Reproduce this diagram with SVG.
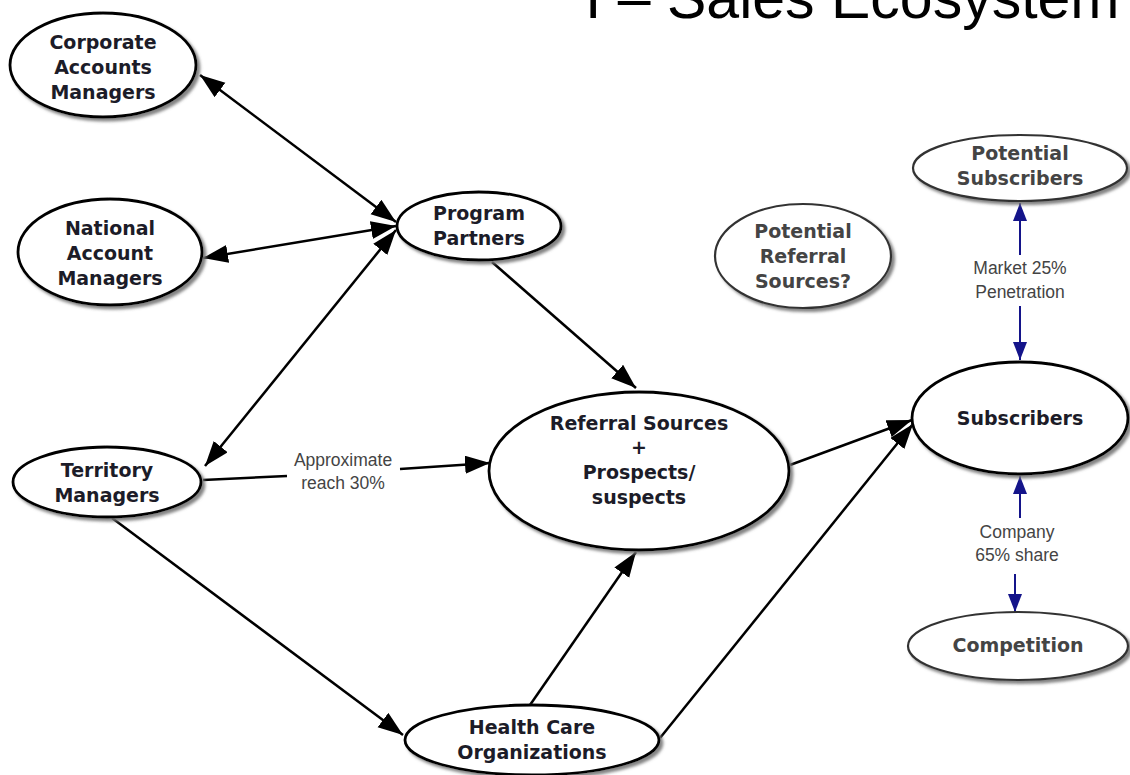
<svg xmlns="http://www.w3.org/2000/svg" width="1130" height="775" viewBox="0 0 1130 775">
<defs>
<filter id="sh" x="-10%" y="-10%" width="125%" height="130%">
<feDropShadow dx="3" dy="3" stdDeviation="1.5" flood-color="#777" flood-opacity="0.9"/>
</filter>
<marker id="ah" markerUnits="userSpaceOnUse" markerWidth="28" markerHeight="20" refX="25" refY="9" orient="auto-start-reverse">
<path d="M0,0 L25,9 L0,18 z" fill="#000"/>
</marker>
<marker id="bh" markerUnits="userSpaceOnUse" markerWidth="20" markerHeight="16" refX="18" refY="7" orient="auto">
<path d="M0,0 L18,7 L0,14 z" fill="#14148a"/>
</marker>
<style>
.node ellipse{fill:#fff;stroke:#000;stroke-width:2.8;filter:url(#sh)}
.dim ellipse{stroke:#333;stroke-width:2.2}
.node text{font-family:"DejaVu Sans",Verdana,sans-serif;font-weight:bold;font-size:19px;fill:#1c1c28;text-anchor:middle}
.dim text{fill:#444}
.conn line{stroke:#000;stroke-width:2.5;fill:none}
.blue line{stroke:#14148a;stroke-width:2}
.lbl{font-family:"Liberation Sans",Arial,sans-serif;font-size:17.5px;fill:#444;text-anchor:middle}
.title{font-family:"Liberation Sans",Arial,sans-serif;font-size:59px;fill:#000}
</style>
</defs>
<rect width="1130" height="775" fill="#fff"/>
<text class="title" x="585" y="18">I – Sales Ecosystem</text>

<g id="connectors" class="conn">
<line x1="200" y1="75" x2="396" y2="222" marker-start="url(#ah)" marker-end="url(#ah)"/>
<line x1="203" y1="258" x2="396" y2="226" marker-start="url(#ah)" marker-end="url(#ah)"/>
<line x1="205" y1="466" x2="396" y2="230" marker-start="url(#ah)" marker-end="url(#ah)"/>
<line x1="492" y1="262" x2="636" y2="388" marker-end="url(#ah)"/>
<line x1="203" y1="480" x2="287" y2="476"/>
<line x1="400" y1="469" x2="490" y2="463" marker-end="url(#ah)"/>
<text class="lbl" x="343" y="466">Approximate</text>
<text class="lbl" x="343" y="489">reach 30%</text>
<line x1="112" y1="518" x2="403" y2="735" marker-end="url(#ah)"/>
<line x1="530" y1="705" x2="636" y2="552" marker-end="url(#ah)"/>
<line x1="790" y1="465" x2="912" y2="420" marker-end="url(#ah)"/>
<line x1="660" y1="738" x2="913" y2="424" marker-end="url(#ah)"/>
<g class="blue">
<line x1="1020" y1="255" x2="1020" y2="203" marker-end="url(#bh)"/>
<line x1="1020" y1="306" x2="1020" y2="360" marker-end="url(#bh)"/>
<line x1="1020" y1="518" x2="1020" y2="476" marker-end="url(#bh)"/>
<line x1="1015" y1="574" x2="1015" y2="612" marker-end="url(#bh)"/>
</g>
<text class="lbl" x="1020" y="274">Market 25%</text>
<text class="lbl" x="1020" y="298">Penetration</text>
<text class="lbl" x="1017" y="538">Company</text>
<text class="lbl" x="1017" y="561">65% share</text>
</g>

<g id="corporate" class="node">
<ellipse cx="103" cy="65" rx="93" ry="52"/>
<text x="103" y="49">Corporate</text>
<text x="103" y="74">Accounts</text>
<text x="103" y="99">Managers</text>
</g>
<g id="national" class="node">
<ellipse cx="110" cy="252" rx="92" ry="53"/>
<text x="110" y="235">National</text>
<text x="110" y="260">Account</text>
<text x="110" y="285">Managers</text>
</g>
<g id="territory" class="node">
<ellipse cx="107" cy="482" rx="94" ry="35"/>
<text x="107" y="477">Territory</text>
<text x="107" y="502">Managers</text>
</g>
<g id="program" class="node">
<ellipse cx="479" cy="226" rx="82" ry="34"/>
<text x="479" y="220">Program</text>
<text x="479" y="245">Partners</text>
</g>
<g id="referral" class="node">
<ellipse cx="639" cy="471" rx="150" ry="79"/>
<text x="639" y="430">Referral Sources</text>
<text x="639" y="454">+</text>
<text x="639" y="479">Prospects/</text>
<text x="639" y="504">suspects</text>
</g>
<g id="potentialReferral" class="node dim">
<ellipse cx="803" cy="256" rx="88" ry="52"/>
<text x="803" y="238">Potential</text>
<text x="803" y="263">Referral</text>
<text x="803" y="288">Sources?</text>
</g>
<g id="potentialSubscribers" class="node dim">
<ellipse cx="1020" cy="168" rx="107" ry="33"/>
<text x="1020" y="160">Potential</text>
<text x="1020" y="185">Subscribers</text>
</g>
<g id="subscribers" class="node">
<ellipse cx="1020" cy="418" rx="108" ry="56"/>
<text x="1020" y="425">Subscribers</text>
</g>
<g id="competition" class="node dim">
<ellipse cx="1018" cy="646" rx="110" ry="34"/>
<text x="1018" y="652">Competition</text>
</g>
<g id="healthcare" class="node">
<ellipse cx="532" cy="740" rx="127" ry="35"/>
<text x="532" y="734">Health Care</text>
<text x="532" y="759">Organizations</text>
</g>
</svg>
